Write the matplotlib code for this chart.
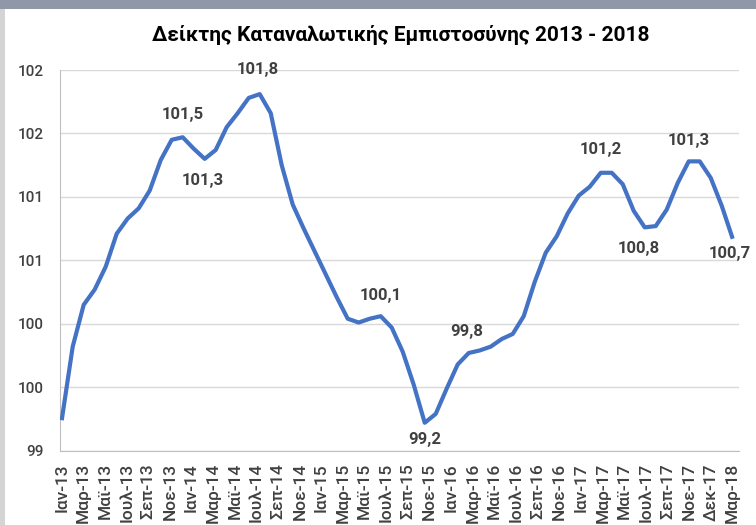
import numpy as np
import matplotlib
matplotlib.use("Agg")
import matplotlib.pyplot as plt
from matplotlib.patches import Rectangle

plt.rcParams['font.family'] = ['Roboto', 'DejaVu Sans']

# Monthly consumer confidence index, Jan 2013 - Mar 2018
values = [
    99.24, 99.82, 100.15, 100.27, 100.45, 100.71, 100.83, 100.91, 101.05, 101.29,
    101.45, 101.47, 101.38, 101.30, 101.37, 101.55, 101.66, 101.78, 101.81, 101.66,
    101.25, 100.94, 100.75, 100.57, 100.39, 100.21, 100.04, 100.01, 100.04, 100.06,
    99.97, 99.78, 99.52, 99.22, 99.29, 99.49, 99.68, 99.77, 99.79, 99.82,
    99.88, 99.92, 100.06, 100.33, 100.56, 100.69, 100.87, 101.01, 101.08, 101.19,
    101.19, 101.10, 100.89, 100.76, 100.77, 100.90, 101.11, 101.28, 101.28, 101.15,
    100.93, 100.67,
]

x_tick_labels = [
    'Ιαν-13', 'Μαρ-13', 'Μαϊ-13', 'Ιουλ-13', 'Σεπ-13', 'Νοε-13',
    'Ιαν-14', 'Μαρ-14', 'Μαϊ-14', 'Ιουλ-14', 'Σεπ-14', 'Νοε-14',
    'Ιαν-15', 'Μαρ-15', 'Μαϊ-15', 'Ιουλ-15', 'Σεπ-15', 'Νοε-15',
    'Ιαν-16', 'Μαρ-16', 'Μαϊ-16', 'Ιουλ-16', 'Σεπ-16', 'Νοε-16',
    'Ιαν-17', 'Μαρ-17', 'Μαϊ-17', 'Ιουλ-17', 'Σεπ-17', 'Νοε-17',
    'Δεκ-17', 'Μαρ-18',
]

y_ticks = [99, 99.5, 100, 100.5, 101, 101.5, 102]
y_tick_labels = ['99', '100', '100', '101', '101', '102', '102']

# points that carry a value label
labelled = [11, 13, 18, 29, 33, 37, 49, 53, 57, 61]
# label offsets in pixels (dx, dy)
label_offsets = {
    11: (0, 23), 13: (-2, -22), 18: (-2, 25), 29: (0, 21), 33: (0, -17),
    37: (-2, 21), 49: (0, 23), 53: (-6, -21), 57: (0, 21), 61: (-3, -15),
}

title = 'Δείκτης Καταναλωτικής Εμπιστοσύνης 2013 - 2018'

fig = plt.figure(figsize=(7.56, 5.25), dpi=100)
fig.patch.set_facecolor('white')

# screenshot frame
fig.patches.append(Rectangle((0, 1 - 9 / 525), 1, 9 / 525, transform=fig.transFigure,
                             facecolor='#9098a8', edgecolor='none', zorder=0))
fig.patches.append(Rectangle((0, 0), 5 / 756, 1 - 9 / 525, transform=fig.transFigure,
                             facecolor='#d4d4d4', edgecolor='none', zorder=0))

ax = fig.add_axes([60 / 756, 1 - 450.7 / 525, (739 - 60) / 756, (450.7 - 70) / 525])

x = np.arange(len(values))
ax.plot(x, values, color='#4472C4', lw=3, solid_joinstyle='round', solid_capstyle='butt', zorder=3)

for i in labelled:
    dx, dy = label_offsets[i]
    txt = f"{values[i]:.1f}".replace('.', ',')
    ax.annotate(txt, (x[i], values[i]), xytext=(dx, dy), textcoords='offset pixels',
                ha='center', va='center', fontsize=12, fontweight='bold', color='#404040',
                zorder=4)

ax.set_xlim(-0.155, 61.57)
ax.set_ylim(99, 102)

ax.set_yticks(y_ticks)
ax.set_yticklabels(y_tick_labels)
ax.set_xticks(np.linspace(0, len(values) - 1, len(x_tick_labels)))
ax.set_xticklabels(x_tick_labels, rotation=90)

ax.tick_params(axis='y', length=0, pad=12, labelsize=11, labelcolor='#404040')
ax.tick_params(axis='x', length=0, pad=9, labelsize=12.5, labelcolor='#404040')
for lab in ax.get_xticklabels() + ax.get_yticklabels():
    lab.set_fontweight('medium')

ax.grid(axis='y', color='#d9d9d9', lw=1)
ax.set_axisbelow(True)
for side in ['top', 'right']:
    ax.spines[side].set_visible(False)
ax.spines['left'].set_color('#bfbfbf')
ax.spines['bottom'].set_color('#bfbfbf')

fig.text(401 / 756, 1 - 35 / 525, title, ha='center', va='center',
         fontsize=15, fontweight='bold', color='black')

fig.savefig('out.png', dpi=100)
